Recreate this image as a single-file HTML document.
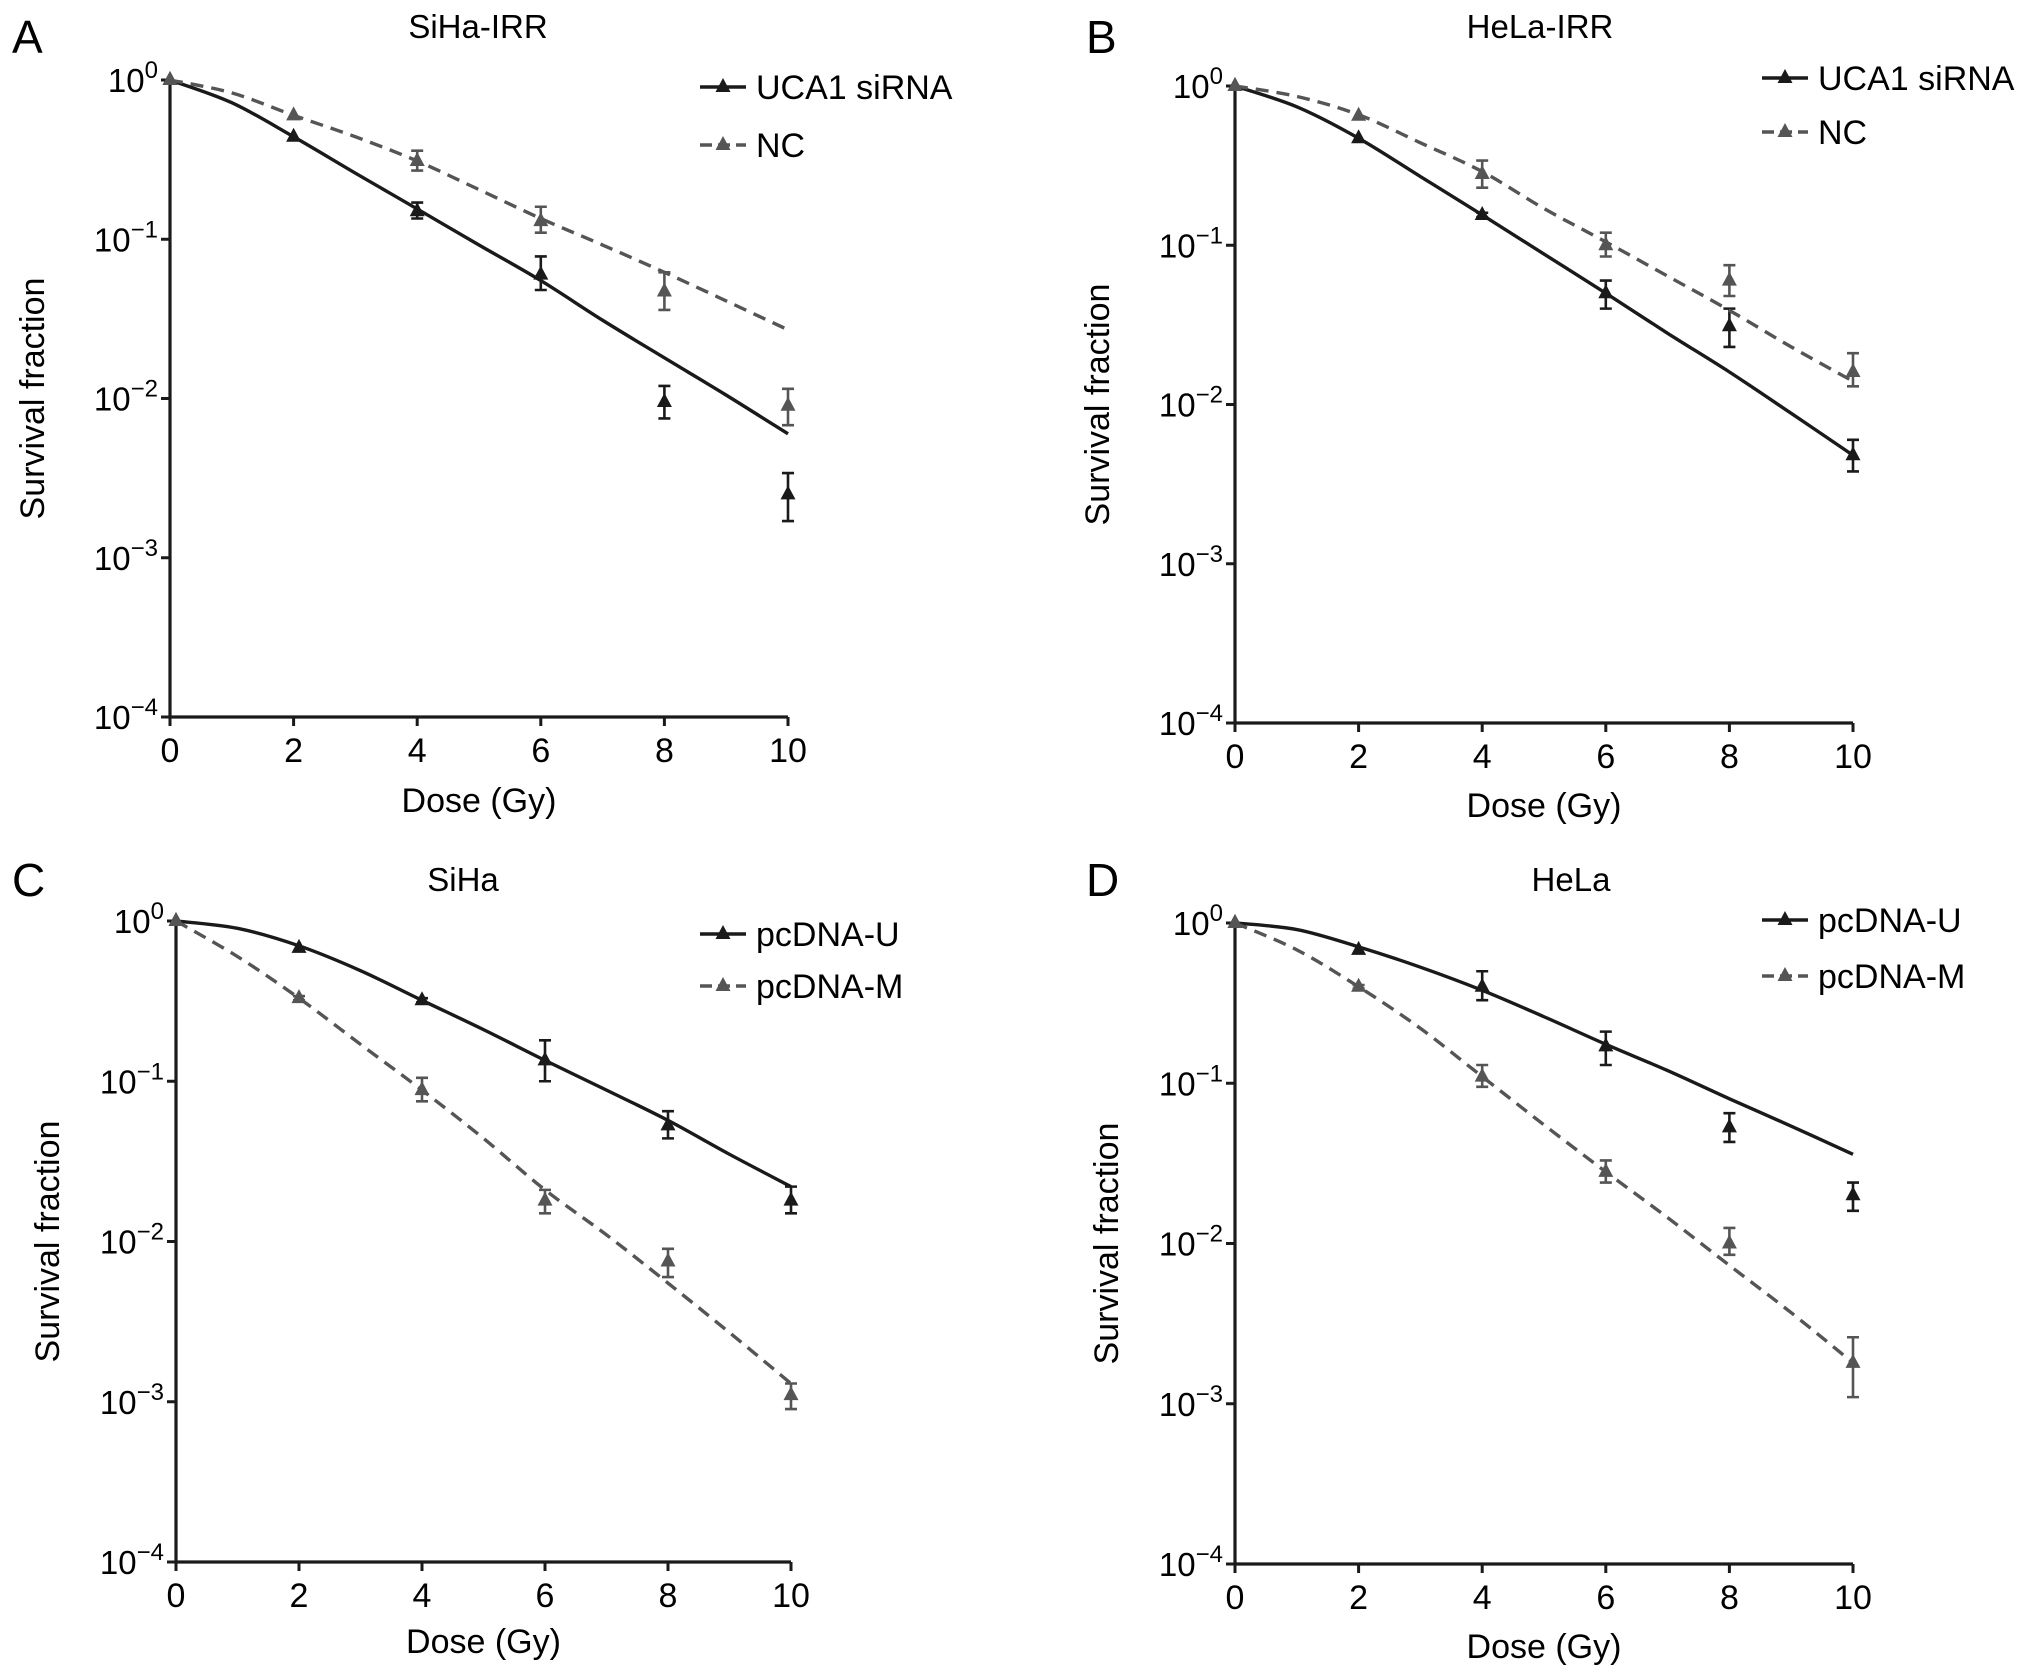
<!DOCTYPE html>
<html><head><meta charset="utf-8">
<style>
html,body{margin:0;padding:0;background:#fff;}
svg{display:block;font-family:"Liberation Sans",sans-serif;}
</style></head>
<body>
<svg id="fig" width="2032" height="1676" viewBox="0 0 2032 1676" xmlns="http://www.w3.org/2000/svg"></svg>
<script>
const doses=[0,2,4,6,8,10];
const fitDoses=[0,1,2,3,4,5,6,7,8,9,10];
const xTicks=[0,2,4,6,8,10];
const yExps=[0,-1,-2,-3,-4];

// Panel A
const aS1pts=[1,0.44,0.15,0.06,0.0095,0.0025];
const aS1lo=[1,0.43,0.135,0.048,0.0075,0.0017];
const aS1hi=[1,0.45,0.17,0.078,0.012,0.0034];
const aS1fit=[1,0.72,0.44,0.26,0.155,0.092,0.055,0.031,0.018,0.0105,0.006];
const aS2pts=[1,0.6,0.31,0.13,0.047,0.009];
const aS2lo=[1,0.59,0.27,0.11,0.036,0.0068];
const aS2hi=[1,0.61,0.36,0.16,0.062,0.0115];
const aS2fit=[1,0.83,0.6,0.44,0.31,0.205,0.135,0.092,0.062,0.041,0.027];
// Panel B
const bS1pts=[1,0.47,0.155,0.05,0.031,0.0048];
const bS1lo=[1,0.46,0.15,0.04,0.023,0.0038];
const bS1hi=[1,0.48,0.16,0.06,0.04,0.006];
const bS1fit=[1,0.74,0.47,0.27,0.155,0.088,0.05,0.028,0.016,0.0088,0.0048];
const bS2pts=[1,0.65,0.28,0.1,0.06,0.016];
const bS2lo=[1,0.64,0.23,0.085,0.048,0.013];
const bS2hi=[1,0.66,0.34,0.12,0.075,0.021];
const bS2fit=[1,0.86,0.66,0.44,0.29,0.17,0.105,0.064,0.039,0.023,0.014];
// Panel C
const cS1pts=[1,0.68,0.32,0.135,0.053,0.018];
const cS1lo=[1,0.67,0.31,0.1,0.044,0.015];
const cS1hi=[1,0.69,0.33,0.18,0.065,0.022];
const cS1fit=[1,0.9,0.7,0.49,0.32,0.21,0.135,0.088,0.057,0.035,0.022];
const cS2pts=[1,0.33,0.088,0.018,0.0075,0.0011];
const cS2lo=[1,0.32,0.075,0.015,0.006,0.0009];
const cS2hi=[1,0.34,0.105,0.021,0.009,0.0013];
const cS2fit=[1,0.6,0.33,0.17,0.088,0.044,0.021,0.011,0.0055,0.0027,0.0013];
// Panel D
const dS1pts=[1,0.68,0.4,0.17,0.053,0.02];
const dS1lo=[1,0.67,0.33,0.13,0.043,0.016];
const dS1hi=[1,0.69,0.5,0.21,0.065,0.024];
const dS1fit=[1,0.91,0.71,0.53,0.38,0.26,0.175,0.12,0.08,0.054,0.036];
const dS2pts=[1,0.4,0.11,0.028,0.01,0.0018];
const dS2lo=[1,0.39,0.095,0.024,0.0085,0.0011];
const dS2hi=[1,0.41,0.13,0.033,0.0125,0.0026];
const dS2fit=[1,0.68,0.4,0.22,0.11,0.055,0.028,0.0145,0.0073,0.0037,0.0018];

const NS="http://www.w3.org/2000/svg";
const svg=document.getElementById('fig');
function mk(tag,attrs,parent){const e=document.createElementNS(NS,tag);for(const k in attrs)e.setAttribute(k,attrs[k]);(parent||svg).appendChild(e);return e;}

const panels=[
 {id:'a',letter:'A',title:'SiHa-IRR',x0:170,x1:788,y0:80,y4:717,lx:700,ly1:87,ly2:145,names:['UCA1 siRNA','NC'],
  s:[[aS1pts,aS1lo,aS1hi,aS1fit],[aS2pts,aS2lo,aS2hi,aS2fit]],ylx:35,xly:800,tx:478,ty:26,ltx:12,lty:36},
 {id:'b',letter:'B',title:'HeLa-IRR',x0:1235,x1:1853,y0:86,y4:723,lx:1762,ly1:78,ly2:132,names:['UCA1 siRNA','NC'],
  s:[[bS1pts,bS1lo,bS1hi,bS1fit],[bS2pts,bS2lo,bS2hi,bS2fit]],ylx:1100,xly:805,tx:1540,ty:26,ltx:1086,lty:36},
 {id:'c',letter:'C',title:'SiHa',x0:176,x1:791,y0:921,y4:1562,lx:700,ly1:934,ly2:986,names:['pcDNA-U','pcDNA-M'],
  s:[[cS1pts,cS1lo,cS1hi,cS1fit],[cS2pts,cS2lo,cS2hi,cS2fit]],ylx:50,xly:1641,tx:463,ty:879,ltx:12,lty:879},
 {id:'d',letter:'D',title:'HeLa',x0:1235,x1:1853,y0:923,y4:1564,lx:1762,ly1:920,ly2:976,names:['pcDNA-U','pcDNA-M'],
  s:[[dS1pts,dS1lo,dS1hi,dS1fit],[dS2pts,dS2lo,dS2hi,dS2fit]],ylx:1109,xly:1646,tx:1571,ty:879,ltx:1086,lty:879}
];
const styles=[{c:'#1a1a1a',dash:'',w:3.4},{c:'#555',dash:'13,8',w:3.4}];

function tri(g,x,y,c){mk('path',{d:`M${x},${y-9} L${x+7.5},${y+5} L${x-7.5},${y+5} Z`,fill:c},g);}

panels.forEach(p=>{
  const g=mk('g',{});
  
  
  const X=d=>p.x0+(p.x1-p.x0)*d/10;
  const Y=v=>p.y0+(p.y4-p.y0)*(-Math.log10(v))/4;
  const L=mk('text',{x:p.ltx,y:p.lty+17,'font-size':46},g);
  L.textContent=p.letter;
  const T=mk('text',{x:p.tx,y:p.ty+12,'font-size':33,'text-anchor':'middle'},g);
  T.textContent=p.title;
  const ax=mk('path',{d:`M${p.x0},${p.y0} L${p.x0},${p.y4} L${p.x1},${p.y4}`,stroke:'#1a1a1a','stroke-width':3.2,fill:'none'},g);
  
  xTicks.forEach(t=>{
    mk('line',{x1:X(t),x2:X(t),y1:p.y4,y2:p.y4+9,stroke:'#1a1a1a','stroke-width':3},g);
    const tx=mk('text',{x:X(t),y:p.y4+45,'font-size':34,'text-anchor':'middle'},g);
    tx.textContent=t;
  });
  yExps.forEach(e=>{
    const y=Y(Math.pow(10,e));
    mk('line',{x1:p.x0-9,x2:p.x0,y1:y,y2:y,stroke:'#1a1a1a','stroke-width':3},g);
    const ty=mk('text',{x:p.x0-12,y:y+12,'font-size':33,'text-anchor':'end'},g);
    
    const b=mk('tspan',{},ty);b.textContent='10';
    const s=mk('tspan',{dy:-14,'font-size':24},ty);s.textContent=e===0?'0':'\u2212'+(-e);
  });
  const yl=mk('text',{x:p.ylx,y:(p.y0+p.y4)/2,'font-size':34,'text-anchor':'middle',transform:`rotate(-90 ${p.ylx} ${(p.y0+p.y4)/2})`,'dominant-baseline':'middle'},g);
  yl.textContent='Survival fraction';
  const xl=mk('text',{x:(p.x0+p.x1)/2,y:p.xly+12,'font-size':34,'text-anchor':'middle'},g);
  xl.textContent='Dose (Gy)';
  p.s.forEach((sr,i)=>{
    const st=styles[i];
    const [pts,lo,hi,fit]=sr;
    const sg=mk('g',{},g);
    
    const P=fitDoses.map((d,k)=>[X(d),Y(fit[k])]);
    let d=`M${P[0][0]},${P[0][1]}`;
    for(let k=0;k<P.length-1;k++){
      const p0=P[Math.max(0,k-1)],p1=P[k],p2=P[k+1],p3=P[Math.min(P.length-1,k+2)];
      d+=` C${p1[0]+(p2[0]-p0[0])/6},${p1[1]+(p2[1]-p0[1])/6} ${p2[0]-(p3[0]-p1[0])/6},${p2[1]-(p3[1]-p1[1])/6} ${p2[0]},${p2[1]}`;
    }
    const fl=mk('path',{d:d,stroke:st.c,'stroke-width':st.w,fill:'none','stroke-dasharray':st.dash},sg);
    
    doses.forEach((dd,k)=>{
      const x=X(dd);
      if(hi[k]/lo[k]>1.05){
        mk('path',{d:`M${x},${Y(lo[k])} L${x},${Y(hi[k])} M${x-6},${Y(lo[k])} L${x+6},${Y(lo[k])} M${x-6},${Y(hi[k])} L${x+6},${Y(hi[k])}`,stroke:st.c,'stroke-width':2.6,fill:'none'},sg);
      }
      tri(sg,x,Y(pts[k]),st.c);
    });
    const ly=i===0?p.ly1:p.ly2;
    const lg=mk('g',{},g);
    
    mk('line',{x1:p.lx,x2:p.lx+46,y1:ly,y2:ly,stroke:st.c,'stroke-width':st.w,'stroke-dasharray':i?'12,6':''},lg);
    tri(lg,p.lx+23,ly,st.c);
    const lt=mk('text',{x:p.lx+56,y:ly+12,'font-size':34},lg);
    lt.textContent=p.names[i];
  });
});
</script>
</body></html>
